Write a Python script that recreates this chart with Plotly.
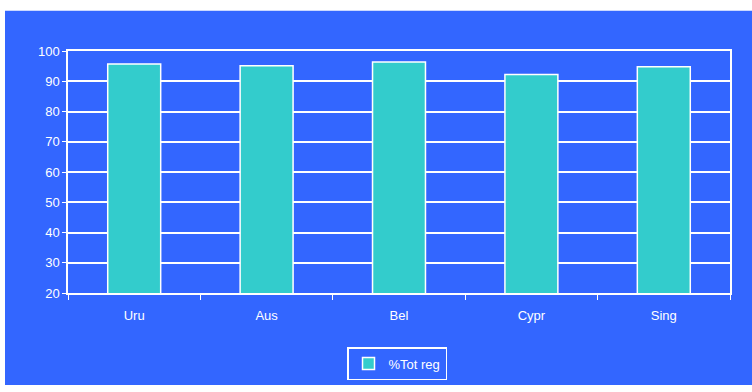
import plotly.graph_objects as go

categories = ["Uru", "Aus", "Bel", "Cypr", "Sing"]
values = [95.7, 95.1, 96.4, 92.2, 94.8]
series_name = "%Tot reg"

BLUE = "#3366FF"
BAR = "#33CCCC"

fig = go.Figure()
fig.add_trace(go.Bar(
    x=categories, y=values, name=series_name,
    marker=dict(color=BAR, line=dict(color="white", width=1.5)),
    width=0.4, showlegend=True,
))

W, H = 752, 392
ml, mr, mt, mb = 68, 22, 51, 94
pw, ph = W - ml - mr, H - mt - mb

fig.update_layout(
    width=W, height=H,
    margin=dict(l=ml, r=mr, t=mt, b=mb),
    paper_bgcolor="white",
    plot_bgcolor=BLUE,
    font=dict(family="Liberation Sans, Arial, sans-serif", size=13, color="white"),
    shapes=[dict(
        type="rect", xref="paper", yref="paper", layer="below",
        x0=(5 - ml) / pw, x1=1 + mr / pw,
        y0=-(mb) / ph, y1=1 + (mt - 10) / ph,
        fillcolor=BLUE, line=dict(width=0),
    )],
    legend=dict(
        x=0.497, xanchor="center", y=-0.292, yanchor="middle",
        orientation="h", bgcolor=BLUE, bordercolor="white", borderwidth=1.5,
        font=dict(size=13, color="white"), itemwidth=30,
    ),
    xaxis=dict(
        showline=True, linecolor="white", linewidth=1.5, mirror=True,
        ticks="outside", tickson="boundaries", tickcolor="white", ticklen=5,
        showgrid=False, tickfont=dict(size=13, color="white"),
        ticklabelstandoff=10,
    ),
    yaxis=dict(
        range=[20, 100], dtick=10, showline=True, linecolor="white", linewidth=1.5,
        mirror=True, ticks="outside", tickcolor="white", ticklen=4,
        showgrid=True, gridcolor="white", gridwidth=1.5, zeroline=False,
        tickfont=dict(size=13, color="white"),
    ),
)

fig.write_html("out.html")
